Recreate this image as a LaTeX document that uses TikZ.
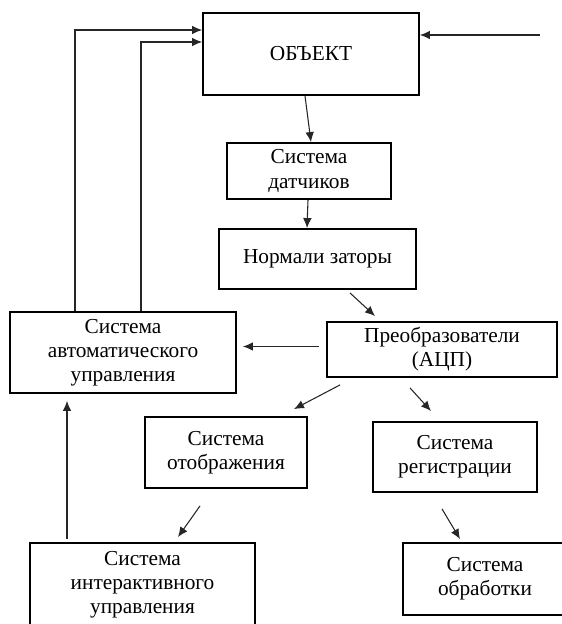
\documentclass[tikz,border=0pt]{standalone}
\usepackage{fontspec}
\setmainfont{Liberation Serif}
\usepackage{tikz}
\usetikzlibrary{arrows.meta,calc}

\begin{document}
\begin{tikzpicture}[x=0.75pt,y=-0.75pt,
  block/.style={draw,line width=1.4pt,align=center,inner sep=0pt,
    font=\fontsize{16}{18}\selectfont},
  arr/.style={draw=black!85,line width=0.8pt,-{Latex[length=7.5pt,width=6.5pt]}}]
  \useasboundingbox (0,0) rectangle (561,624);

  \node[block,minimum width=162pt,minimum height=61.5pt] (obj) at (311,54) {ОБЪЕКТ};
  \node[block,minimum width=123pt,minimum height=42pt] (datch) at (309,171) {Система\\датчиков};
  \node[block,minimum width=147.75pt,minimum height=45pt] (norm) at (317.5,259) {Нормали заторы};
  \node[block,minimum width=172.5pt,minimum height=41.25pt] (preob) at (442,349.5) {Преобразователи\\(АЦП)};
  \node[block,minimum width=169.5pt,minimum height=60.75pt] (sau) at (123,352.5) {Система\\автоматического\\управления};
  \node[block,minimum width=121.5pt,minimum height=53.25pt] (otobr) at (226,452.5) {Система\\отображения};
  \node[block,minimum width=123pt,minimum height=52.5pt] (reg) at (455,457) {Система\\регистрации};
  \node[block,minimum width=168.75pt,minimum height=63pt] (inter) at (142.5,585) {Система\\интерактивного\\управления};
  \node[block,minimum width=123pt,minimum height=54pt] (obr) at (485,579) {Система\\обработки};

  \coordinate (vhod) at (540,35);
  \draw[arr] (vhod) -- (vhod -| obj.east);
  \draw[arr] ($(sau.north)+(-48,0)$) |- ($(obj.west)+(0,-24)$);
  \draw[arr] ($(sau.north)+(18,0)$) |- ($(obj.west)+(0,-12)$);
  \draw[arr] ($(obj.south)+(-6,0)$) -- ($(datch.north)+(2,0)$);
  \draw[arr] ($(datch.south)+(-1,0)$) -- ($(norm.north)+(-10.5,0)$);
  \draw[arr] ($(norm.south)+(32.5,3)$) -- ($(preob.north)+(-67,-5)$);
  \draw[arr] ($(preob.west)+(-7,-3)$) -- ($(sau.east)+(6,-6)$);
  \draw[arr] ($(preob.south)+(-102,7)$) -- ($(otobr.north)+(68,-7)$);
  \draw[arr] ($(preob.south)+(-32,10)$) -- ($(reg.north)+(-24,-10)$);
  \draw[arr] ($(otobr.south)+(-26,17)$) -- ($(inter.north)+(35.5,-5)$);
  \draw[arr] ($(reg.south)+(-13,16)$) -- ($(obr.north)+(-25,-3)$);
  \draw[arr] ($(inter.north)+(-75.5,-3)$) -- ($(sau.south)+(-56,7)$);
\end{tikzpicture}
\end{document}
